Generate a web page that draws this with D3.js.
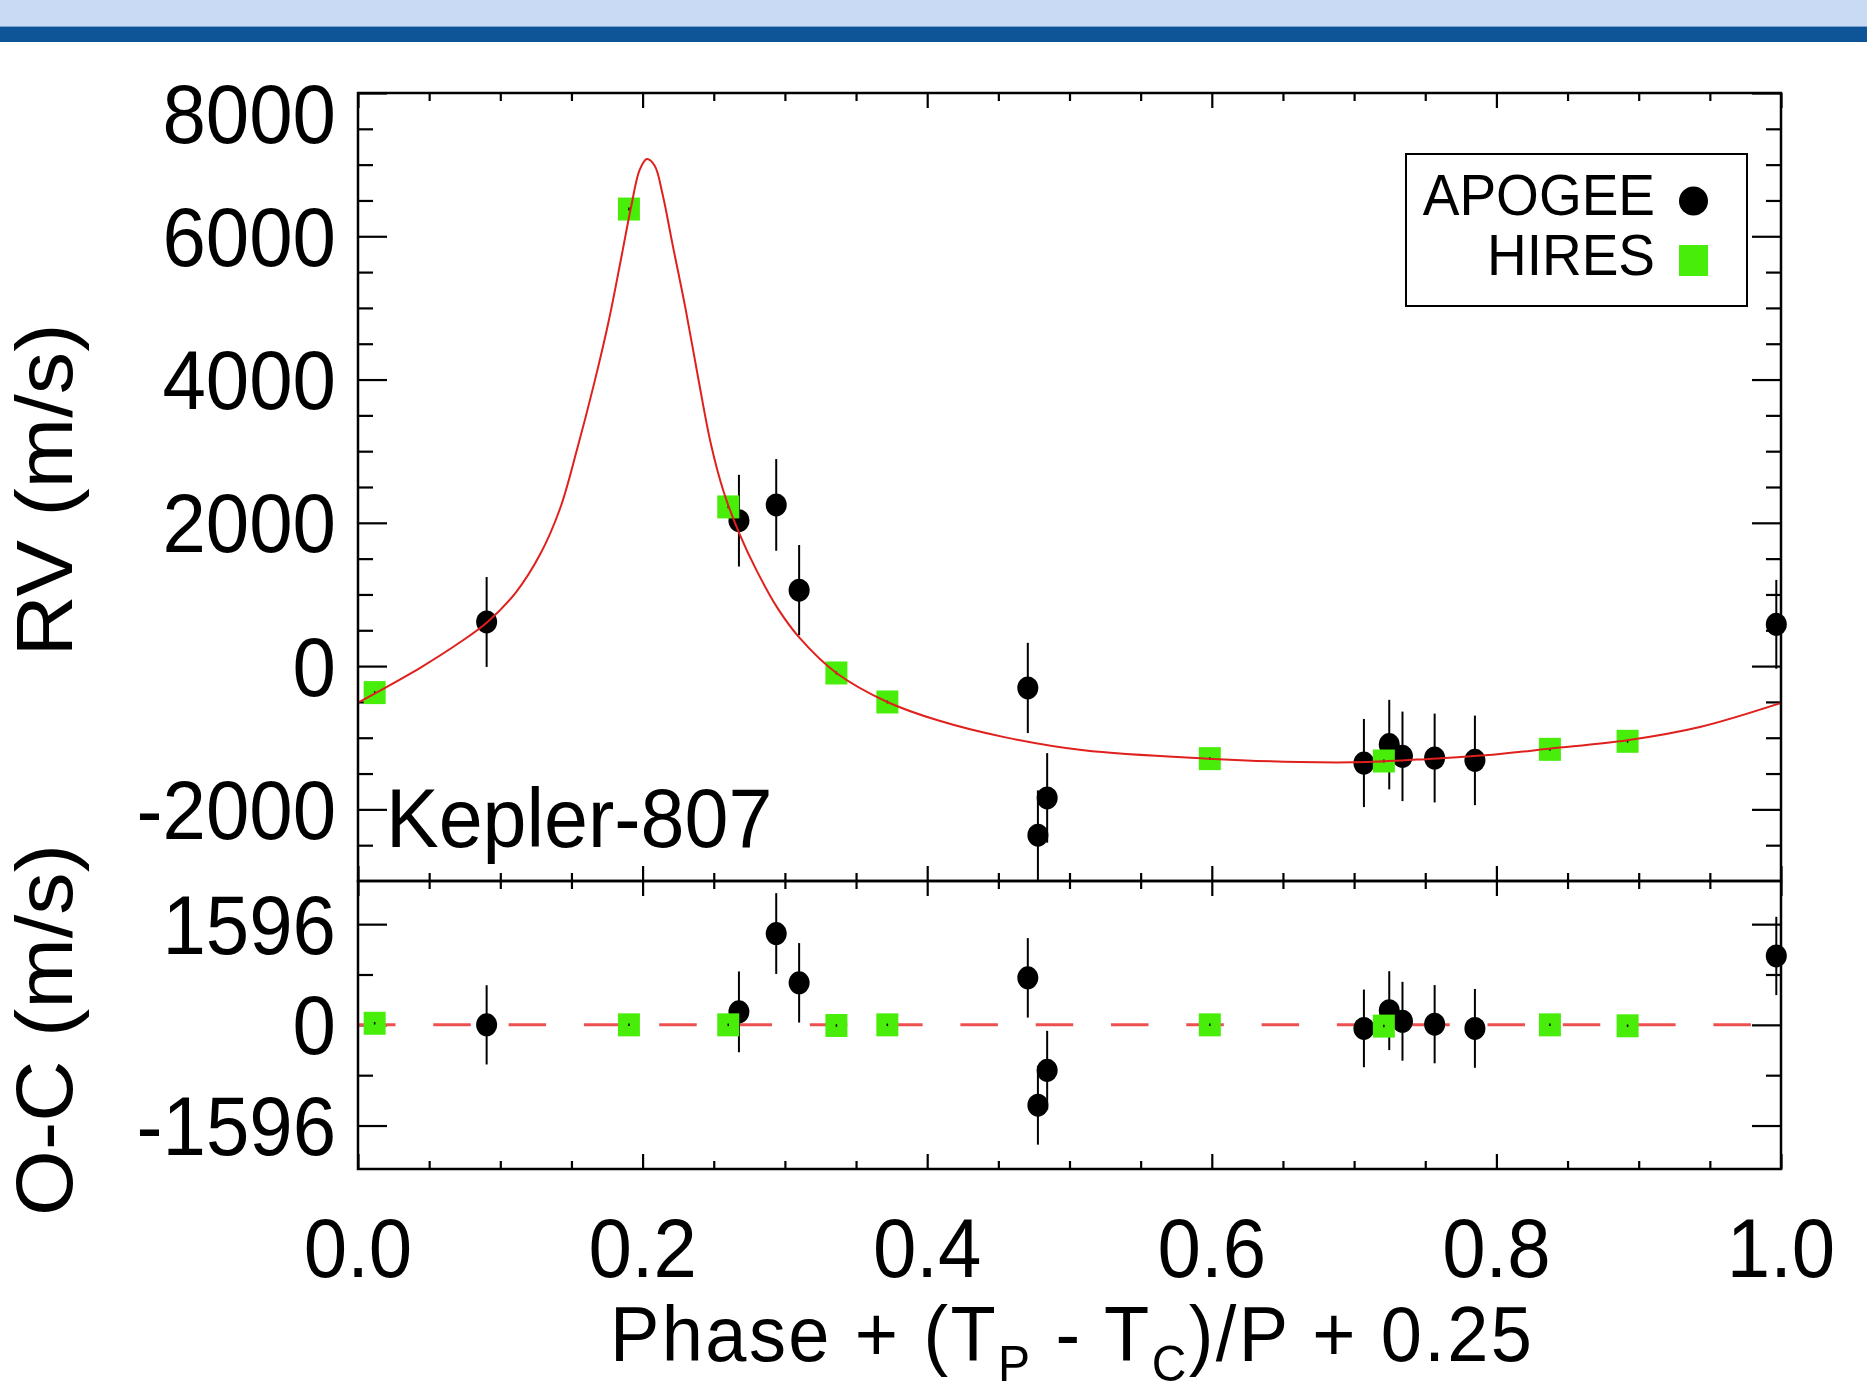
<!DOCTYPE html>
<html>
<head>
<meta charset="utf-8">
<script src="https://cdn.jsdelivr.net/npm/d3@7"></script>
<style>
  html, body { margin: 0; padding: 0; background: #fff; }
  svg { display: block; }
  text { font-family: "Liberation Sans", Arial, Helvetica, sans-serif; fill: #000; }
</style>
</head>
<body>
<svg id="chart" width="1867" height="1394"></svg>
<script>
// ---------------- DATA ----------------
// APOGEE (black circles)
const apogeePhase = [0.0904, 0.2677, 0.2939, 0.3100, 0.4707, 0.4778, 0.4843, 0.7069, 0.7247, 0.7340, 0.7566, 0.7849, 0.9967];
const apogeeRV    = [616, 2030, 2250, 1060, -305, -2360, -1840, -1353, -1096, -1260, -1283, -1316, 583];
const apogeeOC    = [0, 206, 1447, 666, 745, -1274, -720, -56, 225, 57, 10, -56, 1092];
const apogeeErr   = [628, 640, 640, 630, 630, 625, 625, 615, 625, 625, 620, 625, 620];

// HIRES (green squares)
const hiresPhase = [0.0117, 0.1904, 0.2602, 0.3362, 0.3720, 0.5986, 0.7209, 0.8376, 0.8922];
const hiresRV    = [-370, 6380, 2222, -96, -501, -1292, -1325, -1162, -1050];
const hiresOC    = [25, 0, 0, -10, 0, 0, -20, 0, -15];
const hiresErr   = [20, 20, 20, 20, 20, 20, 20, 20, 20];

// Model curve
const modelPhase = [0.000, 0.012, 0.044, 0.073, 0.091, 0.111, 0.128, 0.142, 0.154, 0.166, 0.176, 0.185, 0.192, 0.198, 0.203, 0.2085, 0.214, 0.221, 0.230, 0.239, 0.248, 0.257, 0.268, 0.280, 0.2945, 0.3105, 0.3362, 0.372, 0.408, 0.455, 0.510, 0.597, 0.661, 0.710, 0.755, 0.792, 0.838, 0.892, 0.943, 1.000];
const modelRV    = [-510, -380, -20, 350, 616, 1030, 1560, 2200, 3030, 3950, 4800, 5700, 6420, 6930, 7078, 6985, 6589, 5891, 5007, 4029, 3100, 2430, 1850, 1340, 820, 390, -96, -501, -760, -995, -1176, -1292, -1339, -1339, -1292, -1246, -1152, -1036, -851, -515];

// Tick values / labels
const xMajorTicks = [0, 0.2, 0.4, 0.6, 0.8, 1.0];
const xTickLabels = ["0.0", "0.2", "0.4", "0.6", "0.8", "1.0"];
const xMinorTicks = [0.05, 0.1, 0.15, 0.25, 0.3, 0.35, 0.45, 0.5, 0.55, 0.65, 0.7, 0.75, 0.85, 0.9, 0.95];
const rvMajorTicks = [-2000, 0, 2000, 4000, 6000, 8000];
const rvTickLabels = ["-2000", "0", "2000", "4000", "6000", "8000"];
const rvMinorTicks = [-2500, -1500, -1000, -500, 500, 1000, 1500, 2500, 3000, 3500, 4500, 5000, 5500, 6500, 7000, 7500];
const ocMajorTicks = [-1596, 0, 1596];
const ocTickLabels = ["-1596", "0", "1596"];
const ocMinorTicks = [-798, 798];

// ---------------- LAYOUT ----------------
const X0 = 358, X1 = 1781, YT = 93, YM = 881, YB = 1169;
const SY = 1.06;            // slight vertical stretch of the reference text
const GREEN = "rgb(72,238,10)";
const RED = "#e0201c";

const svg = d3.select("#chart");
svg.append("rect").attr("x", 0).attr("y", 0).attr("width", 1867).attr("height", 1394).attr("fill", "#fff");
// header band
svg.append("rect").attr("x", 0).attr("y", 0).attr("width", 1867).attr("height", 26).attr("fill", "#c9daf4");
svg.append("rect").attr("x", 0).attr("y", 26).attr("width", 1867).attr("height", 1).attr("fill", "#7fa3cf");
svg.append("rect").attr("x", 0).attr("y", 27).attr("width", 1867).attr("height", 15).attr("fill", "#0e5597");

const x = d3.scaleLinear().domain([0, 1]).range([X0, X1]);
const yRV = d3.scaleLinear().domain([-3000, 8000]).range([YM, YT]);
const yOC = d3.scaleLinear().domain([-2285, 2280]).range([YB, YM]);

function txt(parent, px, py, str, size, anchor, rot) {
  const g = parent.append("g").attr("transform", `translate(${px},${py}) scale(1,${SY})` + (rot ? " rotate(-90)" : ""));
  return g.append("text").attr("font-size", size).attr("text-anchor", anchor).text(str);
}

function tickAxis(axisGen, scale, values, size, tx, ty) {
  const g = svg.append("g").attr("transform", `translate(${tx},${ty})`)
    .call(axisGen(scale).tickValues(values).tickSize(size).tickFormat(""));
  g.select(".domain").remove();
  g.selectAll(".tick line").attr("stroke", "#000").attr("stroke-width", 2.2);
  return g;
}

// ---------- ticks: upper panel ----------
tickAxis(d3.axisLeft, yRV, rvMajorTicks, -29, X0, 0);
tickAxis(d3.axisLeft, yRV, rvMinorTicks, -15, X0, 0);
tickAxis(d3.axisRight, yRV, rvMajorTicks, -29, X1, 0);
tickAxis(d3.axisRight, yRV, rvMinorTicks, -15, X1, 0);
tickAxis(d3.axisTop, x, xMajorTicks, -15, 0, YT);
tickAxis(d3.axisTop, x, xMinorTicks, -8, 0, YT);
tickAxis(d3.axisBottom, x, xMajorTicks, -15, 0, YM);
tickAxis(d3.axisBottom, x, xMinorTicks, -8, 0, YM);
// ---------- ticks: lower panel ----------
tickAxis(d3.axisLeft, yOC, ocMajorTicks, -29, X0, 0);
tickAxis(d3.axisLeft, yOC, ocMinorTicks, -15, X0, 0);
tickAxis(d3.axisRight, yOC, ocMajorTicks, -29, X1, 0);
tickAxis(d3.axisRight, yOC, ocMinorTicks, -15, X1, 0);
tickAxis(d3.axisTop, x, xMajorTicks, -15, 0, YM);
tickAxis(d3.axisTop, x, xMinorTicks, -8, 0, YM);
tickAxis(d3.axisBottom, x, xMajorTicks, -15, 0, YB);
tickAxis(d3.axisBottom, x, xMinorTicks, -8, 0, YB);

// ---------- lower panel zero line ----------
svg.append("line")
  .attr("x1", x(0)).attr("x2", x(1)).attr("y1", yOC(0)).attr("y2", yOC(0))
  .attr("stroke", "#ee5050").attr("stroke-width", 3).attr("stroke-dasharray", "37.5,37.8");

// ---------- helpers to draw points ----------
function drawSeries(yScale, phases, vals, errs, kind) {
  const data = phases.map((p, i) => ({ p, v: vals[i], e: errs[i] }));
  const g = svg.append("g");
  if (kind === "circle") {
    g.selectAll("line.err").data(data).join("line")
      .attr("x1", d => x(d.p)).attr("x2", d => x(d.p))
      .attr("y1", d => yScale(d.v - d.e)).attr("y2", d => yScale(d.v + d.e))
      .attr("stroke", "#000").attr("stroke-width", 2);
    g.selectAll("ellipse").data(data).join("ellipse")
      .attr("cx", d => x(d.p)).attr("cy", d => yScale(d.v))
      .attr("rx", 10.5).attr("ry", 11.5).attr("fill", "#000");
  } else {
    g.selectAll("rect").data(data).join("rect")
      .attr("x", d => x(d.p) - 11).attr("y", d => yScale(d.v) - 11.5)
      .attr("width", 22).attr("height", 23).attr("fill", GREEN);
    g.selectAll("line.err").data(data).join("line")
      .attr("x1", d => x(d.p)).attr("x2", d => x(d.p))
      .attr("y1", d => yScale(d.v - d.e)).attr("y2", d => yScale(d.v + d.e))
      .attr("stroke", "#000").attr("stroke-width", 1.5);
  }
}

// upper panel
drawSeries(yRV, apogeePhase, apogeeRV, apogeeErr, "circle");
drawSeries(yRV, hiresPhase, hiresRV, hiresErr, "square");
// model curve
const modelData = modelPhase.map((p, i) => [p, modelRV[i]]);
svg.append("path")
  .datum(modelData)
  .attr("d", d3.line().x(d => x(d[0])).y(d => yRV(d[1])).curve(d3.curveCatmullRom.alpha(0.5)))
  .attr("fill", "none").attr("stroke", RED).attr("stroke-width", 2);

// lower panel
drawSeries(yOC, apogeePhase, apogeeOC, apogeeErr, "circle");
drawSeries(yOC, hiresPhase, hiresOC, hiresErr, "square");

// ---------- frames ----------
svg.append("rect").attr("x", X0).attr("y", YT).attr("width", X1 - X0).attr("height", YM - YT)
  .attr("fill", "none").attr("stroke", "#000").attr("stroke-width", 2.5);
svg.append("rect").attr("x", X0).attr("y", YM).attr("width", X1 - X0).attr("height", YB - YM)
  .attr("fill", "none").attr("stroke", "#000").attr("stroke-width", 2.5);

// ---------- tick labels ----------
const TICK_FS = 78;
const midOff = 0.358 * TICK_FS * SY;
rvMajorTicks.forEach((v, i) => {
  const shift = (v === 8000) ? 20 : 0;   // top label sits a little below the frame edge
  txt(svg, 336, yRV(v) + midOff + shift, rvTickLabels[i], TICK_FS, "end");
});
ocMajorTicks.forEach((v, i) => txt(svg, 336, yOC(v) + midOff, ocTickLabels[i], TICK_FS, "end"));
xMajorTicks.forEach((v, i) => txt(svg, x(v), 1277, xTickLabels[i], TICK_FS, "middle"));

// ---------- axis titles ----------
txt(svg, 72, 490, "RV (m/s)", 80, "middle", true);
txt(svg, 72, 1030, "O-C (m/s)", 80, "middle", true);

const xt = svg.append("g").attr("transform", `translate(1071,1361) scale(1,1.04)`)
  .append("text").attr("font-size", 74).attr("text-anchor", "middle")
  .attr("textLength", 922).attr("lengthAdjust", "spacing");
xt.append("tspan").text("Phase + (T");
xt.append("tspan").attr("font-size", 48).attr("dy", 19).text("P");
xt.append("tspan").attr("dy", -19).text(" - T");
xt.append("tspan").attr("font-size", 48).attr("dy", 19).text("C");
xt.append("tspan").attr("dy", -19).text(")/P + 0.25");

// ---------- annotation ----------
txt(svg, 386, 847, "Kepler-807", 79, "start");

// ---------- legend ----------
svg.append("rect").attr("x", 1406).attr("y", 154).attr("width", 341).attr("height", 152)
  .attr("fill", "#fff").attr("stroke", "#000").attr("stroke-width", 2);
txt(svg, 1655, 215, "APOGEE", 55, "end");
txt(svg, 1655, 275, "HIRES", 55, "end");
svg.append("ellipse").attr("cx", 1693.5).attr("cy", 201).attr("rx", 14.5).attr("ry", 14.5).attr("fill", "#000");
svg.append("rect").attr("x", 1679).attr("y", 245).attr("width", 29).attr("height", 31).attr("fill", GREEN);
</script>
</body>
</html>
